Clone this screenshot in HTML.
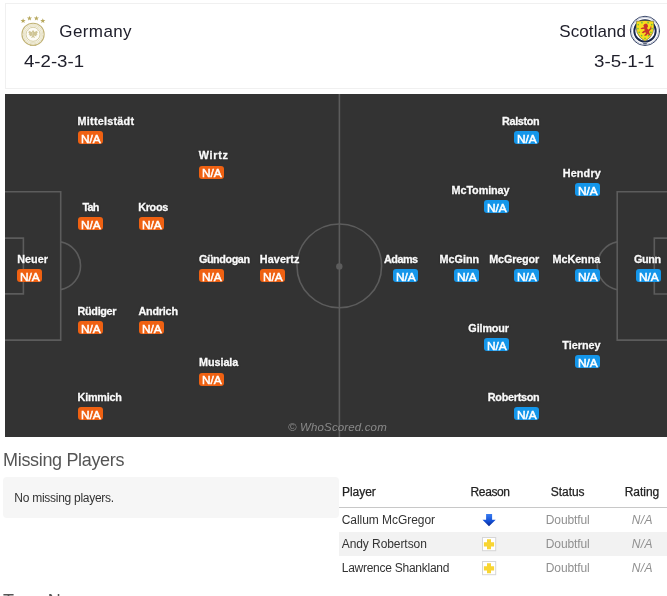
<!DOCTYPE html>
<html lang="en"><head><meta charset="utf-8"><title>Germany vs Scotland - Preview</title>
<style>
html,body{margin:0;padding:0;background:#fff}
body{width:667px;height:596px;overflow:hidden;position:relative;font-family:'Liberation Sans', sans-serif}
.t{position:absolute;white-space:nowrap;display:block}
.b{position:absolute;width:25px;height:13px;border-radius:3px}
#hdr{position:absolute;left:5px;top:3px;width:670px;height:84px;border:1px solid #f0f0f0;background:#fff}
#pitch{position:absolute;left:5px;top:94px;width:668.4px;height:343px;background:#333}
#mp{position:absolute;left:3px;top:477px;width:335.7px;height:41px;background:#f6f6f6;border-radius:4px}
#tb{position:absolute;left:339px;top:473px;width:335px;height:110px;background:#fff}
#hl{position:absolute;left:339px;top:507px;width:335px;height:1px;background:#c8c8c8}
#r2{position:absolute;left:339px;top:532px;width:335px;height:24px;background:#f2f2f2}
svg{position:absolute;left:0;top:0;overflow:visible}
</style></head><body>
<div id="hdr"></div>
<div id="pitch"></div>
<svg width="667" height="596" viewBox="0 0 667 596" fill="none" stroke="#5c5c5c" stroke-width="1.6">
<line x1="339.4" y1="94" x2="339.4" y2="437"/>
<ellipse cx="339.3" cy="265.9" rx="42.3" ry="41.9"/>
<circle cx="339.3" cy="266.4" r="3.2" fill="#5c5c5c" stroke="none"/>
<path d="M5 191.8H60.7V340.1H5"/>
<path d="M5 238.1H23.4V293.9H5"/>
<path d="M60.7 241.9A24.25 24.25 0 0 1 60.7 289.6"/>
<path d="M673 191.8H617.2V340.1H673"/>
<path d="M673 238.1H654.3V294H673"/>
<path d="M617.2 241.9A24.3 24.3 0 0 0 617.2 289.7"/>
</svg>

<svg width="667" height="596" viewBox="0 0 667 596">
<g>
<path d="M23.10,18.20L23.77,19.98L25.67,20.07L24.18,21.25L24.69,23.08L23.10,22.03L21.51,23.08L22.02,21.25L20.53,20.07L22.43,19.98Z" fill="#b7a85e"/><path d="M29.50,15.70L30.17,17.48L32.07,17.57L30.58,18.75L31.09,20.58L29.50,19.53L27.91,20.58L28.42,18.75L26.93,17.57L28.83,17.48Z" fill="#b7a85e"/><path d="M36.40,15.70L37.07,17.48L38.97,17.57L37.48,18.75L37.99,20.58L36.40,19.53L34.81,20.58L35.32,18.75L33.83,17.57L35.73,17.48Z" fill="#b7a85e"/><path d="M42.80,18.20L43.47,19.98L45.37,20.07L43.88,21.25L44.39,23.08L42.80,22.03L41.21,23.08L41.72,21.25L40.23,20.07L42.13,19.98Z" fill="#b7a85e"/>
<circle cx="33.05" cy="34.3" r="11.1" fill="#fbfaf2" stroke="#c2b478" stroke-width="1.1"/>
<circle cx="33.05" cy="34.3" r="9.7" fill="none" stroke="#e4dec0" stroke-width="0.9"/>
<circle cx="33.05" cy="34.3" r="8.4" fill="none" stroke="#dcd5b0" stroke-width="0.7"/>
<circle cx="33.05" cy="34.3" r="7.0" fill="#fdfcf7" stroke="#cdc38f" stroke-width="0.8"/>
<path d="M32.4 32.2L28.3 30.5L29.1 32.1L28.1 32.6L29.3 33.6L28.5 34.5L29.9 35.1L29.5 36.2L31.2 36.1L32.4 35ZM33.70 32.2L37.80 30.5L37.00 32.1L38.00 32.6L36.80 33.6L37.60 34.5L36.20 35.1L36.60 36.2L34.90 36.1L33.70 35ZM33.05 30.1L34.1 31.3L33.8 35.4L35.1 38L33.05 37.2L31 38L32.3 35.4L32 31.3Z" fill="#cfc596"/>
<path d="M30 44.9h6.2v1.1h-6.2z" fill="#c5b880"/>
</g>
<g>
<circle cx="645" cy="30.9" r="14.6" fill="#fff" stroke="#1d2b52" stroke-width="0.9"/>
<circle cx="645" cy="30.9" r="13.6" fill="none" stroke="#c3c9d8" stroke-width="1"/>
<circle cx="645" cy="30.9" r="10.7" fill="#fff" stroke="#1a274c" stroke-width="1.9"/>
<path d="M636.3 21.3 Q645 19.6 653.7 21.3 Q654.6 27 653 32.5 Q651 38 645 41.2 Q639 38 637 32.5 Q635.4 27 636.3 21.3Z" fill="#f8de1c" stroke="#2a3558" stroke-width="0.5"/>
<circle cx="641.9" cy="22.7" r="0.85" fill="#6abf3f"/><circle cx="648.1" cy="22.7" r="0.85" fill="#6abf3f"/><circle cx="638.3" cy="24.6" r="0.85" fill="#6abf3f"/><circle cx="651.7" cy="24.6" r="0.85" fill="#6abf3f"/><circle cx="638.0" cy="28.6" r="0.85" fill="#6abf3f"/><circle cx="652.0" cy="28.6" r="0.85" fill="#6abf3f"/><circle cx="639.2" cy="32.3" r="0.85" fill="#6abf3f"/><circle cx="650.9" cy="32.3" r="0.85" fill="#6abf3f"/><circle cx="641.6" cy="35.6" r="0.85" fill="#6abf3f"/><circle cx="648.5" cy="35.6" r="0.85" fill="#6abf3f"/><circle cx="645.0" cy="38.4" r="0.85" fill="#6abf3f"/>
<path d="M644.2 24.2 l2-.6 1.5 1.2 .3 2 -1 1.3 1.2 1.6 2-1.4 .5-2 .8.3 -.4 2.6 -2 2 .3 2 1.4 1.6 -1.6.6 -1.4-1.6 -1.2 1.8 -2.2.4 .3-1.4 1.2-.8 -.6-1.8 -2 1.2 -1.6-.4 1.4-1.6 1.6-.8 -.4-1.6 -2.6.4 -1.2-1 2.2-.6 1.6-.4 -1-1.4z" fill="#c9352b"/>
<path d="M643.2 43.2h3.6v1.1h-3.6z" fill="#33405f"/>
</g></svg>
<div class="b" style="left:17.00px;top:269.00px;background:#ef6112"></div><div class="b" style="left:78.00px;top:131.00px;background:#ef6112"></div><div class="b" style="left:78.00px;top:217.25px;background:#ef6112"></div><div class="b" style="left:78.00px;top:320.75px;background:#ef6112"></div><div class="b" style="left:78.00px;top:407.00px;background:#ef6112"></div><div class="b" style="left:139.00px;top:217.25px;background:#ef6112"></div><div class="b" style="left:139.00px;top:320.75px;background:#ef6112"></div><div class="b" style="left:199.40px;top:165.50px;background:#ef6112"></div><div class="b" style="left:199.40px;top:269.00px;background:#ef6112"></div><div class="b" style="left:199.40px;top:372.50px;background:#ef6112"></div><div class="b" style="left:260.00px;top:269.00px;background:#ef6112"></div><div class="b" style="left:636.00px;top:269.00px;background:#1496ea"></div><div class="b" style="left:575.00px;top:182.75px;background:#1496ea"></div><div class="b" style="left:575.00px;top:269.00px;background:#1496ea"></div><div class="b" style="left:575.00px;top:355.25px;background:#1496ea"></div><div class="b" style="left:514.30px;top:131.00px;background:#1496ea"></div><div class="b" style="left:514.30px;top:269.00px;background:#1496ea"></div><div class="b" style="left:514.30px;top:407.00px;background:#1496ea"></div><div class="b" style="left:484.00px;top:200.00px;background:#1496ea"></div><div class="b" style="left:484.00px;top:338.00px;background:#1496ea"></div><div class="b" style="left:454.00px;top:269.00px;background:#1496ea"></div><div class="b" style="left:393.00px;top:269.00px;background:#1496ea"></div>
<div id="mp"></div><div id="tb"></div><div id="r2"></div><div id="hl"></div>
<svg width="667" height="596" viewBox="0 0 667 596">
<defs><linearGradient id="ag" x1="0" y1="0" x2="0" y2="1"><stop offset="0" stop-color="#3a7df0"/><stop offset="0.55" stop-color="#1552d8"/><stop offset="1" stop-color="#08258f"/></linearGradient></defs>
<path d="M486.1 514h6v5.8h3.6l-6.7 6.5-6.5-6.5h3.6z" fill="url(#ag)"/>
<g>
<rect x="482.5" y="537.5" width="13.2" height="13.2" fill="#fff" stroke="#d6d6d6" stroke-width="1"/>
<path d="M487 539.3h4v3h3.1v4.2H491v2.8h-4v-2.8h-3.1v-4.2h3.1z" fill="#f8d532"/>
<rect x="482.5" y="561.5" width="13.2" height="13.2" fill="#fff" stroke="#d6d6d6" stroke-width="1"/>
<path d="M487 563.3h4v3h3.1v4.2H491v2.8h-4v-2.8h-3.1v-4.2h3.1z" fill="#f8d532"/>
</g>
</svg>

<span class="t" style="left:59.32px;top:23.01px;font-size:17px;line-height:17px;letter-spacing:0.400px;color:#20202c;">Germany</span><span class="t" style="left:23.56px;top:54.06px;font-size:16px;line-height:16px;transform:scaleX(1.1633);transform-origin:0 0;color:#20202c;">4-2-3-1</span><span class="t" style="left:559.32px;top:23.11px;font-size:17px;line-height:17px;letter-spacing:0.078px;color:#20202c;">Scotland</span><span class="t" style="left:594.45px;top:54.06px;font-size:16px;line-height:16px;transform:scaleX(1.1691);transform-origin:0 0;color:#20202c;">3-5-1-1</span><span class="t" style="left:17.17px;top:253.76px;font-size:10.8px;line-height:10.8px;letter-spacing:0.060px;color:#fafafa;font-weight:700;text-shadow:0 0 2px rgba(0,0,0,.55);-webkit-text-stroke:0.3px #fafafa;">Neuer</span><span class="t" style="left:20.03px;top:271.91px;font-size:10.5px;line-height:10.5px;transform:scaleX(1.1304);transform-origin:0 0;color:#fff;-webkit-text-stroke:0.45px #fff;">N/A</span><span class="t" style="left:77.57px;top:115.76px;font-size:10.8px;line-height:10.8px;letter-spacing:0.245px;color:#fafafa;font-weight:700;text-shadow:0 0 2px rgba(0,0,0,.55);-webkit-text-stroke:0.3px #fafafa;">Mittelstädt</span><span class="t" style="left:81.03px;top:133.91px;font-size:10.5px;line-height:10.5px;transform:scaleX(1.1304);transform-origin:0 0;color:#fff;-webkit-text-stroke:0.45px #fff;">N/A</span><span class="t" style="left:82.57px;top:202.01px;font-size:10.8px;line-height:10.8px;letter-spacing:-0.779px;color:#fafafa;font-weight:700;text-shadow:0 0 2px rgba(0,0,0,.55);-webkit-text-stroke:0.3px #fafafa;">Tah</span><span class="t" style="left:81.03px;top:220.16px;font-size:10.5px;line-height:10.5px;transform:scaleX(1.1304);transform-origin:0 0;color:#fff;-webkit-text-stroke:0.45px #fff;">N/A</span><span class="t" style="left:77.57px;top:305.51px;font-size:10.8px;line-height:10.8px;letter-spacing:-0.308px;color:#fafafa;font-weight:700;text-shadow:0 0 2px rgba(0,0,0,.55);-webkit-text-stroke:0.3px #fafafa;">Rüdiger</span><span class="t" style="left:81.03px;top:323.66px;font-size:10.5px;line-height:10.5px;transform:scaleX(1.1304);transform-origin:0 0;color:#fff;-webkit-text-stroke:0.45px #fff;">N/A</span><span class="t" style="left:77.57px;top:391.76px;font-size:10.8px;line-height:10.8px;letter-spacing:-0.227px;color:#fafafa;font-weight:700;text-shadow:0 0 2px rgba(0,0,0,.55);-webkit-text-stroke:0.3px #fafafa;">Kimmich</span><span class="t" style="left:81.03px;top:409.91px;font-size:10.5px;line-height:10.5px;transform:scaleX(1.1304);transform-origin:0 0;color:#fff;-webkit-text-stroke:0.45px #fff;">N/A</span><span class="t" style="left:138.17px;top:202.01px;font-size:10.8px;line-height:10.8px;letter-spacing:-0.289px;color:#fafafa;font-weight:700;text-shadow:0 0 2px rgba(0,0,0,.55);-webkit-text-stroke:0.3px #fafafa;">Kroos</span><span class="t" style="left:142.03px;top:220.16px;font-size:10.5px;line-height:10.5px;transform:scaleX(1.1304);transform-origin:0 0;color:#fff;-webkit-text-stroke:0.45px #fff;">N/A</span><span class="t" style="left:138.47px;top:305.51px;font-size:10.8px;line-height:10.8px;letter-spacing:-0.208px;color:#fafafa;font-weight:700;text-shadow:0 0 2px rgba(0,0,0,.55);-webkit-text-stroke:0.3px #fafafa;">Andrich</span><span class="t" style="left:142.03px;top:323.66px;font-size:10.5px;line-height:10.5px;transform:scaleX(1.1304);transform-origin:0 0;color:#fff;-webkit-text-stroke:0.45px #fff;">N/A</span><span class="t" style="left:198.77px;top:150.26px;font-size:10.8px;line-height:10.8px;letter-spacing:0.688px;color:#fafafa;font-weight:700;text-shadow:0 0 2px rgba(0,0,0,.55);-webkit-text-stroke:0.3px #fafafa;">Wirtz</span><span class="t" style="left:202.43px;top:168.41px;font-size:10.5px;line-height:10.5px;transform:scaleX(1.1304);transform-origin:0 0;color:#fff;-webkit-text-stroke:0.45px #fff;">N/A</span><span class="t" style="left:198.97px;top:253.76px;font-size:10.8px;line-height:10.8px;letter-spacing:-0.419px;color:#fafafa;font-weight:700;text-shadow:0 0 2px rgba(0,0,0,.55);-webkit-text-stroke:0.3px #fafafa;">Gündogan</span><span class="t" style="left:202.43px;top:271.91px;font-size:10.5px;line-height:10.5px;transform:scaleX(1.1304);transform-origin:0 0;color:#fff;-webkit-text-stroke:0.45px #fff;">N/A</span><span class="t" style="left:198.97px;top:357.26px;font-size:10.8px;line-height:10.8px;letter-spacing:-0.044px;color:#fafafa;font-weight:700;text-shadow:0 0 2px rgba(0,0,0,.55);-webkit-text-stroke:0.3px #fafafa;">Musiala</span><span class="t" style="left:202.43px;top:375.41px;font-size:10.5px;line-height:10.5px;transform:scaleX(1.1304);transform-origin:0 0;color:#fff;-webkit-text-stroke:0.45px #fff;">N/A</span><span class="t" style="left:259.77px;top:253.76px;font-size:10.8px;line-height:10.8px;letter-spacing:0.105px;color:#fafafa;font-weight:700;text-shadow:0 0 2px rgba(0,0,0,.55);-webkit-text-stroke:0.3px #fafafa;">Havertz</span><span class="t" style="left:263.03px;top:271.91px;font-size:10.5px;line-height:10.5px;transform:scaleX(1.1304);transform-origin:0 0;color:#fff;-webkit-text-stroke:0.45px #fff;">N/A</span><span class="t" style="left:634.07px;top:253.76px;font-size:10.8px;line-height:10.8px;letter-spacing:-0.380px;color:#fafafa;font-weight:700;text-shadow:0 0 2px rgba(0,0,0,.55);-webkit-text-stroke:0.3px #fafafa;">Gunn</span><span class="t" style="left:639.03px;top:271.91px;font-size:10.5px;line-height:10.5px;transform:scaleX(1.1304);transform-origin:0 0;color:#fff;-webkit-text-stroke:0.45px #fff;">N/A</span><span class="t" style="left:562.67px;top:167.51px;font-size:10.8px;line-height:10.8px;letter-spacing:0.189px;color:#fafafa;font-weight:700;text-shadow:0 0 2px rgba(0,0,0,.55);-webkit-text-stroke:0.3px #fafafa;">Hendry</span><span class="t" style="left:578.03px;top:185.66px;font-size:10.5px;line-height:10.5px;transform:scaleX(1.1304);transform-origin:0 0;color:#fff;-webkit-text-stroke:0.45px #fff;">N/A</span><span class="t" style="left:552.47px;top:253.76px;font-size:10.8px;line-height:10.8px;letter-spacing:-0.042px;color:#fafafa;font-weight:700;text-shadow:0 0 2px rgba(0,0,0,.55);-webkit-text-stroke:0.3px #fafafa;">McKenna</span><span class="t" style="left:578.03px;top:271.91px;font-size:10.5px;line-height:10.5px;transform:scaleX(1.1304);transform-origin:0 0;color:#fff;-webkit-text-stroke:0.45px #fff;">N/A</span><span class="t" style="left:562.27px;top:340.01px;font-size:10.8px;line-height:10.8px;letter-spacing:0.005px;color:#fafafa;font-weight:700;text-shadow:0 0 2px rgba(0,0,0,.55);-webkit-text-stroke:0.3px #fafafa;">Tierney</span><span class="t" style="left:578.03px;top:358.16px;font-size:10.5px;line-height:10.5px;transform:scaleX(1.1304);transform-origin:0 0;color:#fff;-webkit-text-stroke:0.45px #fff;">N/A</span><span class="t" style="left:501.97px;top:115.76px;font-size:10.8px;line-height:10.8px;letter-spacing:-0.308px;color:#fafafa;font-weight:700;text-shadow:0 0 2px rgba(0,0,0,.55);-webkit-text-stroke:0.3px #fafafa;">Ralston</span><span class="t" style="left:517.33px;top:133.91px;font-size:10.5px;line-height:10.5px;transform:scaleX(1.1304);transform-origin:0 0;color:#fff;-webkit-text-stroke:0.45px #fff;">N/A</span><span class="t" style="left:489.27px;top:253.76px;font-size:10.8px;line-height:10.8px;letter-spacing:-0.165px;color:#fafafa;font-weight:700;text-shadow:0 0 2px rgba(0,0,0,.55);-webkit-text-stroke:0.3px #fafafa;">McGregor</span><span class="t" style="left:517.33px;top:271.91px;font-size:10.5px;line-height:10.5px;transform:scaleX(1.1304);transform-origin:0 0;color:#fff;-webkit-text-stroke:0.45px #fff;">N/A</span><span class="t" style="left:487.77px;top:391.76px;font-size:10.8px;line-height:10.8px;letter-spacing:-0.256px;color:#fafafa;font-weight:700;text-shadow:0 0 2px rgba(0,0,0,.55);-webkit-text-stroke:0.3px #fafafa;">Robertson</span><span class="t" style="left:517.33px;top:409.91px;font-size:10.5px;line-height:10.5px;transform:scaleX(1.1304);transform-origin:0 0;color:#fff;-webkit-text-stroke:0.45px #fff;">N/A</span><span class="t" style="left:451.57px;top:184.76px;font-size:10.8px;line-height:10.8px;letter-spacing:-0.081px;color:#fafafa;font-weight:700;text-shadow:0 0 2px rgba(0,0,0,.55);-webkit-text-stroke:0.3px #fafafa;">McTominay</span><span class="t" style="left:487.03px;top:202.91px;font-size:10.5px;line-height:10.5px;transform:scaleX(1.1304);transform-origin:0 0;color:#fff;-webkit-text-stroke:0.45px #fff;">N/A</span><span class="t" style="left:468.37px;top:322.76px;font-size:10.8px;line-height:10.8px;letter-spacing:-0.124px;color:#fafafa;font-weight:700;text-shadow:0 0 2px rgba(0,0,0,.55);-webkit-text-stroke:0.3px #fafafa;">Gilmour</span><span class="t" style="left:487.03px;top:340.91px;font-size:10.5px;line-height:10.5px;transform:scaleX(1.1304);transform-origin:0 0;color:#fff;-webkit-text-stroke:0.45px #fff;">N/A</span><span class="t" style="left:439.57px;top:253.76px;font-size:10.8px;line-height:10.8px;letter-spacing:0.011px;color:#fafafa;font-weight:700;text-shadow:0 0 2px rgba(0,0,0,.55);-webkit-text-stroke:0.3px #fafafa;">McGinn</span><span class="t" style="left:457.03px;top:271.91px;font-size:10.5px;line-height:10.5px;transform:scaleX(1.1304);transform-origin:0 0;color:#fff;-webkit-text-stroke:0.45px #fff;">N/A</span><span class="t" style="left:383.97px;top:253.76px;font-size:10.8px;line-height:10.8px;letter-spacing:-0.492px;color:#fafafa;font-weight:700;text-shadow:0 0 2px rgba(0,0,0,.55);-webkit-text-stroke:0.3px #fafafa;">Adams</span><span class="t" style="left:396.03px;top:271.91px;font-size:10.5px;line-height:10.5px;transform:scaleX(1.1304);transform-origin:0 0;color:#fff;-webkit-text-stroke:0.45px #fff;">N/A</span><span class="t" style="left:288.04px;top:421.77px;font-size:11.5px;line-height:11.5px;letter-spacing:0.144px;color:#8a8a8a;font-style:italic;">© WhoScored.com</span><span class="t" style="left:3.08px;top:450.76px;font-size:18px;line-height:18px;letter-spacing:-0.333px;color:#555;">Missing Players</span><span class="t" style="left:14.32px;top:492.24px;font-size:12px;line-height:12px;letter-spacing:-0.271px;color:#333;">No missing players.</span><span class="t" style="left:341.92px;top:485.84px;font-size:12px;line-height:12px;letter-spacing:-0.019px;color:#222;-webkit-text-stroke:0.25px #222;">Player</span><span class="t" style="left:470.62px;top:485.84px;font-size:12px;line-height:12px;letter-spacing:-0.411px;color:#222;-webkit-text-stroke:0.25px #222;">Reason</span><span class="t" style="left:550.82px;top:485.84px;font-size:12px;line-height:12px;letter-spacing:-0.042px;color:#222;-webkit-text-stroke:0.25px #222;">Status</span><span class="t" style="left:624.72px;top:485.84px;font-size:12px;line-height:12px;letter-spacing:-0.034px;color:#222;-webkit-text-stroke:0.25px #222;">Rating</span><span class="t" style="left:341.72px;top:513.84px;font-size:12px;line-height:12px;letter-spacing:-0.051px;color:#333;">Callum McGregor</span><span class="t" style="left:341.72px;top:537.84px;font-size:12px;line-height:12px;letter-spacing:-0.072px;color:#333;">Andy Robertson</span><span class="t" style="left:341.72px;top:561.84px;font-size:12px;line-height:12px;letter-spacing:-0.256px;color:#333;">Lawrence Shankland</span><span class="t" style="left:545.82px;top:513.84px;font-size:12px;line-height:12px;letter-spacing:-0.126px;color:#909090;">Doubtful</span><span class="t" style="left:631.72px;top:513.84px;font-size:12px;line-height:12px;letter-spacing:0.352px;color:#909090;font-style:italic;">N/A</span><span class="t" style="left:545.82px;top:537.84px;font-size:12px;line-height:12px;letter-spacing:-0.126px;color:#909090;">Doubtful</span><span class="t" style="left:631.72px;top:537.84px;font-size:12px;line-height:12px;letter-spacing:0.352px;color:#909090;font-style:italic;">N/A</span><span class="t" style="left:545.82px;top:561.84px;font-size:12px;line-height:12px;letter-spacing:-0.126px;color:#909090;">Doubtful</span><span class="t" style="left:631.72px;top:561.84px;font-size:12px;line-height:12px;letter-spacing:0.352px;color:#909090;font-style:italic;">N/A</span><span class="t" style="left:3.08px;top:592.26px;font-size:18px;line-height:18px;letter-spacing:-0.844px;color:#555;">Team News</span>
</body></html>
